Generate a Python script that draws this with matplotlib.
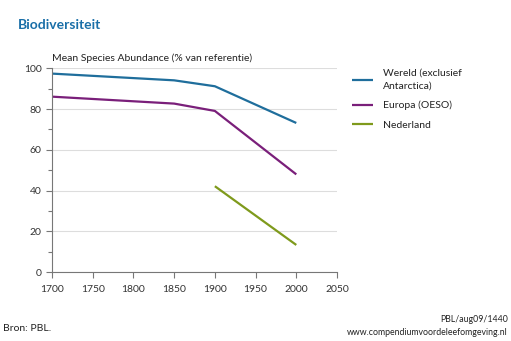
import matplotlib.pyplot as plt
from matplotlib.ticker import MultipleLocator

plt.rcParams['font.family'] = ['Lato', 'DejaVu Sans']

jaren_wereld = [1700, 1850, 1900, 2000]
msa_wereld = [97.4, 94.1, 91.2, 73.2]
jaren_europa = [1700, 1850, 1900, 2000]
msa_europa = [86.1, 82.7, 79.1, 48.0]
jaren_nl = [1900, 2000]
msa_nl = [42.2, 13.4]

reeksen = [
    ('Wereld (exclusief\nAntarctica)', jaren_wereld, msa_wereld, '#1f6e9c'),
    ('Europa (OESO)', jaren_europa, msa_europa, '#7a1f7a'),
    ('Nederland', jaren_nl, msa_nl, '#7f9a1c'),
]

fig = plt.figure(figsize=(5.11, 3.41), dpi=100)
ax = fig.add_axes([0.1018, 0.2015, 0.5577, 0.5982])

for naam, x, y, kleur in reeksen:
    ax.plot(x, y, color=kleur, lw=1.6, label=naam, solid_capstyle='butt')

ax.set_xlim(1700, 2050)
ax.set_ylim(0, 100)
ax.set_xticks(range(1700, 2051, 50))
ax.set_yticks(range(0, 101, 20))
ax.yaxis.set_minor_locator(MultipleLocator(10))
ax.grid(axis='y', color='#dddddd', lw=0.8)
ax.set_axisbelow(True)
for s in ['top', 'right']:
    ax.spines[s].set_visible(False)
for s in ['left', 'bottom']:
    ax.spines[s].set_color('#777777')
    ax.spines[s].set_linewidth(0.8)
ax.tick_params(which='both', colors='#777777', labelcolor='#333333',
               labelsize=7.5, length=4, width=0.8)
ax.tick_params(which='minor', length=3)
ax.tick_params(axis='x', pad=5)

fig.text(0.035, 0.915, 'Biodiversiteit', fontsize=10, fontweight='bold',
         color='#1a6fa8')
fig.text(0.1018, 0.822, 'Mean Species Abundance (% van referentie)',
         fontsize=7.5, color='#222222')

leg = ax.legend(loc='upper left', bbox_to_anchor=(1.02, 1.045), frameon=False,
                fontsize=7.5, handlelength=2.0, handletextpad=1.0,
                labelspacing=0.95, labelcolor='#222222')
for t in leg.get_texts():
    t.set_linespacing(1.65)

fig.text(0.006, 0.03, 'Bron: PBL.', fontsize=7.5, color='#222222')
fig.text(0.994, 0.055, 'PBL/aug09/1440', fontsize=6.3, color='#222222',
         ha='right')
fig.text(0.994, 0.018, 'www.compendiumvoordeleefomgeving.nl', fontsize=6.3,
         color='#222222', ha='right')

fig.savefig('out.png', dpi=100)
